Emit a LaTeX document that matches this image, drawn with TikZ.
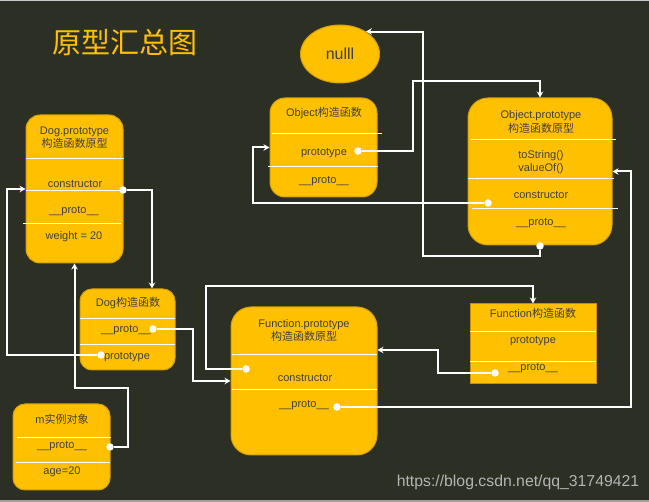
\documentclass[tikz,border=0pt]{standalone}
\usepackage{fontspec}
\setmainfont{Liberation Sans}
\newfontfamily\cjk{Noto Sans CJK SC}
\usetikzlibrary{arrows.meta,calc,shapes.geometric}
\definecolor{bg}{RGB}{44,47,35}
\definecolor{boxfill}{RGB}{255,192,0}
\definecolor{boxedge}{RGB}{214,160,0}
\definecolor{rectedge}{RGB}{204,140,0}
\definecolor{txt}{RGB}{64,64,64}
\definecolor{mark}{RGB}{180,180,180}
\definecolor{topstrip}{RGB}{200,200,200}
\definecolor{botstrip}{RGB}{160,160,160}
\begin{document}
\begin{tikzpicture}[x=1pt,y=-1pt,
 box/.style={draw=boxedge, fill=boxfill, line width=1pt, inner sep=0pt},
 lbl/.style={text=txt, font=\fontsize{11}{13.5}\selectfont, inner sep=0pt, align=center},
 sepline/.style={draw=white, line width=0.9pt},
 link/.style={draw=white, line width=2pt, -{Stealth[length=6pt,width=6.5pt,inset=2pt]}},
 dot/.style={circle, fill=white, inner sep=0pt, minimum size=7.5pt},
]
\fill[bg] (0,0) rectangle (649,502);
\fill[topstrip] (0,0) rectangle (649,1.5);
\fill[botstrip] (0,500) rectangle (649,502);
\useasboundingbox (0,0) rectangle (649,502);

% title
\node[text=boxfill, font=\cjk\fontsize{29}{32}\selectfont, inner sep=0pt] (title) at (125,42) {原型汇总图};

% null
\node[box, ellipse, minimum width=79pt, minimum height=58pt, text=txt, font=\fontsize{16}{18}\selectfont] (null) at (340,54) {nulll};

% boxes
\node[box, rounded corners=15pt, minimum width=107pt, minimum height=99pt] (ocon) at (323.5,147.5) {};
\node[box, rounded corners=20pt, minimum width=144pt, minimum height=147pt] (op) at (540,171.5) {};
\node[box, rounded corners=14pt, minimum width=97pt, minimum height=148pt] (dp) at (74.5,189) {};
\node[box, rounded corners=12pt, minimum width=95pt, minimum height=81pt] (dc) at (127.5,329.5) {};
\node[box, rounded corners=12pt, minimum width=97pt, minimum height=86pt] (m) at (61.5,447) {};
\node[box, rounded corners=20pt, minimum width=146pt, minimum height=148pt] (fp) at (304,381) {};
\node[box, draw=rectedge, minimum width=126pt, minimum height=80pt] (fc) at (533,344) {};

% separators
\draw[sepline] (272,133) -- (382,133);
\draw[sepline] (268,166) -- (378,166);
\draw[sepline] (471,139) -- (616,139);
\draw[sepline] (468,178) -- (614,178);
\draw[sepline] (472,208) -- (618,208);
\draw[sepline] (26,158) -- (124,158);
\draw[sepline] (26,190) -- (123,190);
\draw[sepline] (23,223) -- (121,223);
\draw[sepline] (80,318) -- (175,318);
\draw[sepline] (80,344) -- (175,344);
\draw[sepline] (17,437) -- (111,437);
\draw[sepline] (16,462) -- (110,462);
\draw[sepline] (232,354) -- (377,354);
\draw[sepline] (232,389) -- (377,389);
\draw[sepline] (470,331) -- (596,331);
\draw[sepline] (470,361) -- (596,361);

% labels
\node[lbl] (ocon-t) at (324,113) {Object{\cjk 构造函数}};
\node[lbl] (ocon-p) at (324,153) {prototype};
\node[lbl] (ocon-q) at (324,181) {\_\_proto\_\_};

\node[lbl] (op-t) at (541,122) {Object.prototype\\{\cjk 构造函数原型}};
\node[lbl] (op-m) at (541,162) {toString()\\valueOf()};
\node[lbl] (op-c) at (541,195) {constructor};
\node[lbl] (op-q) at (541,223) {\_\_proto\_\_};

\node[lbl] (dp-t) at (74.5,137.5) {Dog.prototype\\{\cjk 构造函数原型}};
\node[lbl] (dp-c) at (75,184) {constructor};
\node[lbl] (dp-q) at (74,211) {\_\_proto\_\_};
\node[lbl] (dp-w) at (74,237) {weight = 20};

\node[lbl] (dc-t) at (128,303) {Dog{\cjk 构造函数}};
\node[lbl] (dc-q) at (126,330) {\_\_proto\_\_};
\node[lbl] (dc-p) at (127,357) {prototype};

\node[lbl] (m-t) at (62,419) {m{\cjk 实例对象}};
\node[lbl] (m-q) at (62,446) {\_\_proto\_\_};
\node[lbl] (m-a) at (62,472) {age=20};

\node[lbl] (fp-t) at (304,330.5) {Function.prototype\\{\cjk 构造函数原型}};
\node[lbl] (fp-c) at (305,378) {constructor};
\node[lbl] (fp-q) at (304,405) {\_\_proto\_\_};

\node[lbl] (fc-t) at (533,313) {Function{\cjk 构造函数}};
\node[lbl] (fc-p) at (533,341) {prototype};
\node[lbl] (fc-q) at (533,368) {\_\_proto\_\_};

% dots
\node[dot] (dpc) at (123,190) {};
\node[dot] (dcp) at (153,329) {};
\node[dot] (dcr) at (101,355) {};
\node[dot] (mp) at (110,447) {};
\node[dot] (ocp) at (358,151) {};
\node[dot] (opc) at (488,203) {};
\node[dot] (opp) at (540,246) {};
\node[dot] (fpc) at (246,369) {};
\node[dot] (fpp) at (337,407) {};
\node[dot] (fcp) at (495,373) {};

% links
\draw[link] (opp) -- ++(0,10) -- ++(-117,0) |- (null.41);
\draw[link] (ocp) -- ++(55,0) -- ++(0,-70) -| (op.north);
\draw[link] (opc) -- ++(-235,0) |- (ocon.west);
\draw[link] (fpp) -- ++(294,0) |- (op.east);
\draw[link] (fcp) -- ++(-57,0) |- ($(fp.east)+(0,-31)$);
\draw[link] (fpc) -- ++(-40,0) -- ++(0,-83) -| (fc.north);
\draw[link] (dcp) -- ++(40,0) |- (fp.west);
\draw[link] (dcr) -- ++(-94,0) |- (dp.west);
\draw[link] (dpc) -| ($(dc.north)+(24.5,0)$);
\draw[link] (mp) -- ++(18,0) -- ++(0,-59) -| (dp.south);

% watermark
\node[text=mark, font=\fontsize{15.8}{18}\selectfont, inner sep=0pt] (wm) at (518,482) {https://blog.csdn.net/qq\_31749421};
\end{tikzpicture}
\end{document}
